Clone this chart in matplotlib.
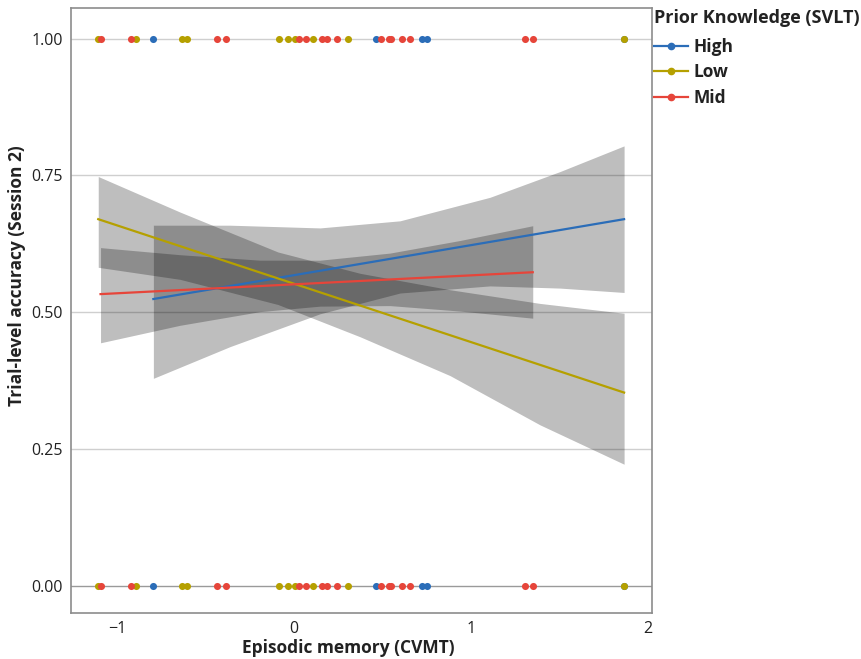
import matplotlib
matplotlib.use("Agg")
import matplotlib.pyplot as plt
from matplotlib.lines import Line2D

plt.rcParams['font.family'] = ['Open Sans', 'DejaVu Sans']

groups = ["High", "Low", "Mid"]
colors = {"High": "#2B6DB8", "Low": "#B5A000", "Mid": "#E6453A"}

# participant-level episodic memory scores (each shows trials at 0 and 1)
x_high = [-0.796, 0.462, 0.723, 0.751, 1.868]
x_low = [-1.108, -0.896, -0.634, -0.606, -0.087, -0.032, 0.006, 0.109, 0.304, 1.868]
x_mid = [-1.095, -0.925, -0.436, -0.385, 0.027, 0.067, 0.161, 0.187, 0.241,
         0.492, 0.538, 0.549, 0.611, 0.654, 1.310, 1.351]
outcomes = [0.0, 1.0]

# fitted lines (endpoints)
fit_x = {"High": [-0.796, 1.868], "Low": [-1.108, 1.868], "Mid": [-1.095, 1.351]}
fit_y = {"High": [0.524, 0.670], "Low": [0.670, 0.353], "Mid": [0.533, 0.573]}

# confidence bands
band_x_high = [-0.796, -0.362, 0.147, 0.600, 1.109, 1.505, 1.868]
band_hi_high = [0.659, 0.659, 0.654, 0.667, 0.710, 0.757, 0.804]
band_lo_high = [0.379, 0.437, 0.497, 0.535, 0.548, 0.544, 0.536]

band_x_low = [-1.108, -0.645, -0.091, 0.374, 0.883, 1.392, 1.868]
band_hi_low = [0.748, 0.683, 0.610, 0.571, 0.541, 0.516, 0.498]
band_lo_low = [0.582, 0.560, 0.514, 0.455, 0.384, 0.294, 0.222]

band_x_mid = [-1.095, -0.645, -0.192, 0.147, 0.543, 0.939, 1.351]
band_hi_mid = [0.618, 0.605, 0.595, 0.595, 0.608, 0.631, 0.658]
band_lo_mid = [0.444, 0.476, 0.501, 0.511, 0.512, 0.502, 0.489]

points = {"High": x_high, "Low": x_low, "Mid": x_mid}
bands = {
    "High": (band_x_high, band_lo_high, band_hi_high),
    "Low": (band_x_low, band_lo_low, band_hi_low),
    "Mid": (band_x_mid, band_lo_mid, band_hi_mid),
}

fig = plt.figure(figsize=(8.62, 6.59), dpi=100)
ax = fig.add_axes([0.0824, 0.0698, 0.674, 0.918])

yticks = [0.0, 0.25, 0.5, 0.75, 1.0]
for yt in yticks:
    ax.axhline(yt, color="#9a9a9a" if yt == 0 else "#cfcfcf", lw=1.0, zorder=0)

for g in groups:
    bx, blo, bhi = bands[g]
    ax.fill_between(bx, blo, bhi, color="black", alpha=0.255, lw=0, zorder=1)

for g in groups:
    ax.plot(fit_x[g], fit_y[g], color=colors[g], lw=1.6, zorder=3)

for g in groups:
    for yv in outcomes:
        ax.scatter(points[g], [yv] * len(points[g]), s=26, color=colors[g],
                   linewidths=0, zorder=4)

ax.set_xlim(-1.262, 2.026)
ax.set_ylim(-0.050, 1.056)
ax.set_xticks([-1, 0, 1, 2])
ax.set_yticks(yticks)
ax.set_yticklabels(["0.00", "0.25", "0.50", "0.75", "1.00"])
ax.tick_params(length=0, labelsize=11.5, colors="#222222", pad=6)

for s in ax.spines.values():
    s.set_color("#8c8c8c")
    s.set_linewidth(1.2)

ax.set_xlabel("Episodic memory (CVMT)", fontsize=12.5, fontweight="bold",
              color="#222222")
ax.set_ylabel("Trial-level accuracy (Session 2)", fontsize=12.5, fontweight="bold",
              color="#222222")
ax.xaxis.label.set_va("center")
ax.xaxis.set_label_coords(0.477, -0.058)
ax.yaxis.label.set_va("center")
ax.yaxis.set_label_coords(-0.093, 0.557)

handles = [Line2D([0], [0], color=colors[g], lw=1.6, marker="o", markersize=4.5)
           for g in groups]
leg = ax.legend(handles, groups, title="Prior Knowledge (SVLT)", loc="upper left",
                bbox_to_anchor=(1.0, 1.002), frameon=False, borderaxespad=0,
                borderpad=0.1, handlelength=2.0, handletextpad=0.3,
                labelspacing=0.45, prop={"size": 12.5, "weight": "bold"})
leg.get_title().set_fontsize(13)
leg.get_title().set_fontweight("bold")
leg._legend_box.align = "left"
leg._legend_box.sep = 8
for t in leg.get_texts():
    t.set_color("#222222")
leg.get_title().set_color("#222222")

fig.savefig("out.png", dpi=100)
